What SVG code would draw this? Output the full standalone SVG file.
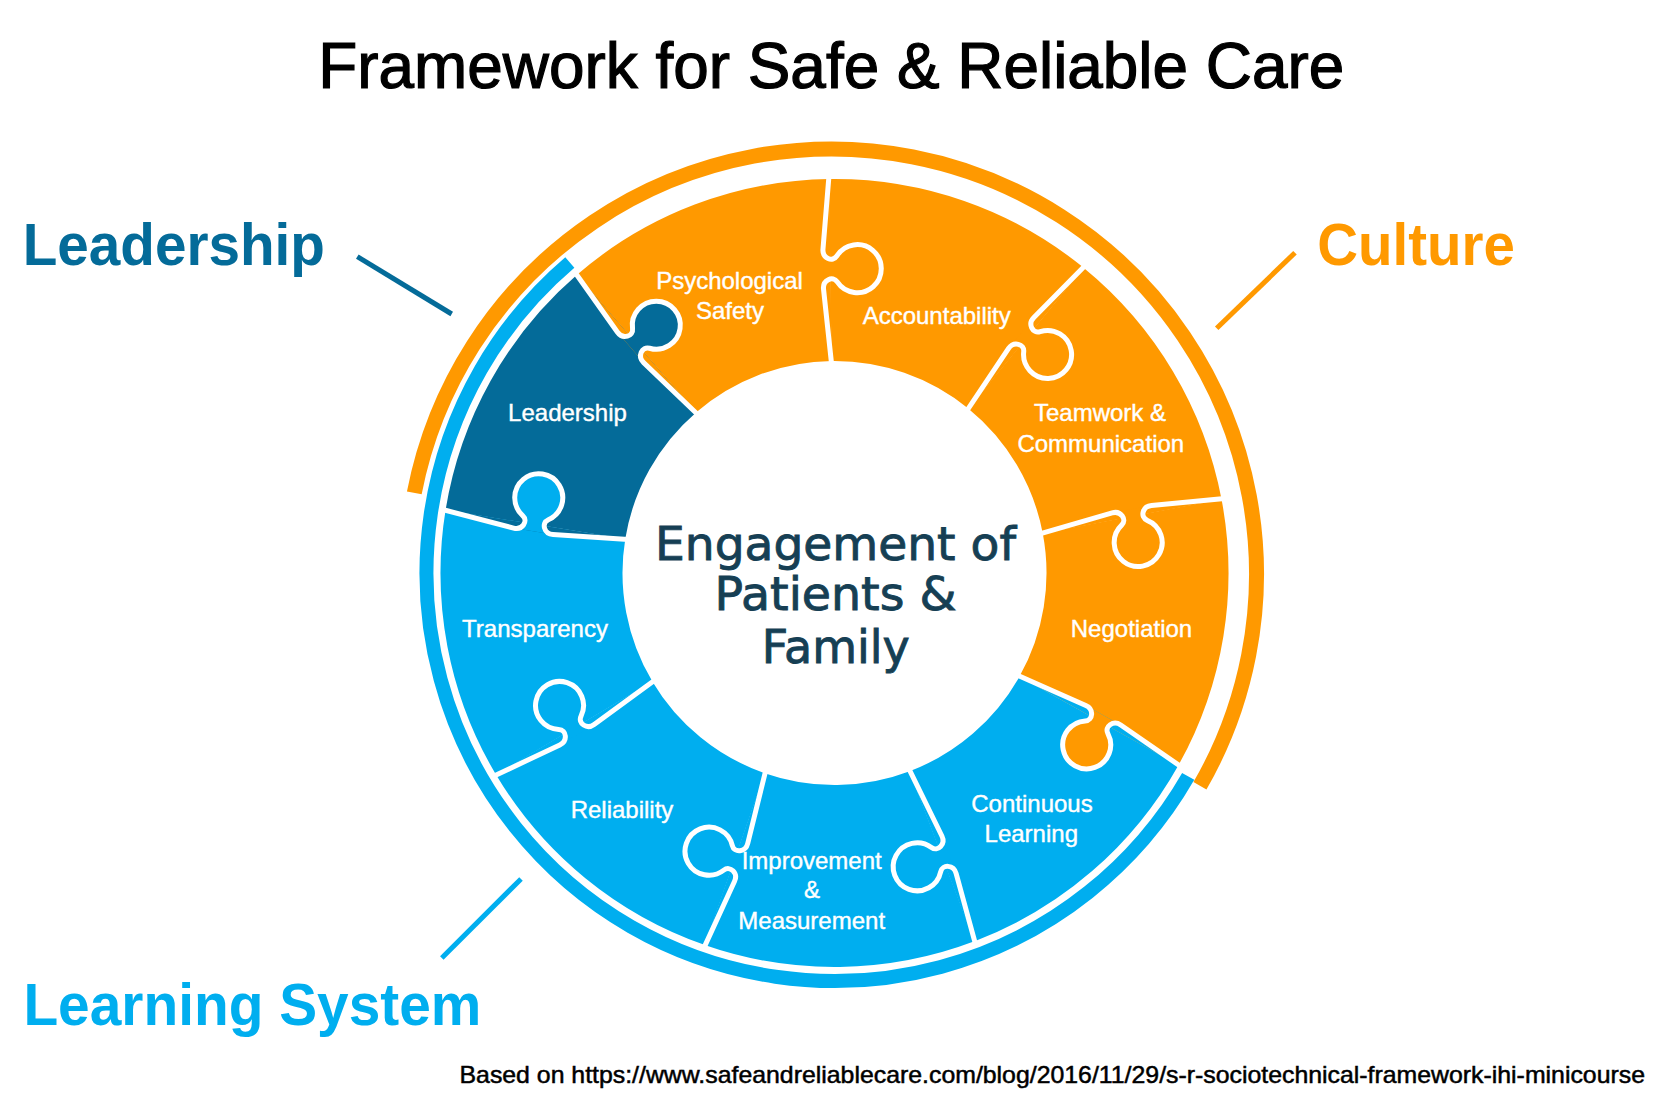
<svg xmlns="http://www.w3.org/2000/svg" width="1663" height="1102" viewBox="0 0 1663 1102">
<defs>
<style>
.lbl{font-family:"Liberation Sans",Arial,sans-serif;font-size:24px;fill:#ffffff;stroke:#ffffff;stroke-width:0.4;text-anchor:middle}
.piece{fill:none;stroke-width:182;stroke-dasharray:211.7 2000}
.or{stroke:#FF9900}.lb{stroke:#00AEEF}.db{stroke:#046B99}
.f-or{fill:#FF9900}.f-lb{fill:#00AEEF}.f-db{fill:#046B99}
.seam{fill:none;stroke:#ffffff;stroke-width:5;stroke-linejoin:round;stroke-linecap:butt}
.big{font-family:"Liberation Sans",Arial,sans-serif;font-weight:bold;font-size:60px}
.lead{stroke-width:5;fill:none}
.center{font-family:"DejaVu Sans","Liberation Sans",sans-serif;font-size:47px;fill:#163F54;stroke:#163F54;stroke-width:0.9;text-anchor:middle}
</style>
<path id="seamLine" d="M 397 0 L 324 -7 C 315 -7.9 310.3 2.5 317 6.83 A 24 24 0 1 1 291 6.83 C 297.7 2.5 293 -7.9 284 -7 L 209 0"/>
<path id="knob" d="M 324 -7 C 315 -7.9 310.3 2.5 317 6.83 A 24 24 0 1 1 291 6.83 C 297.7 2.5 293 -7.9 284 -7 Z"/>
<path id="sliver" d="M 394 0 L 324 -7 L 284 -7 L 212 0 Z"/>
</defs>
<rect width="1663" height="1102" fill="#ffffff"/>

<g id="title">
<text x="831.3" y="88.3" text-anchor="middle" font-family="'Liberation Sans',Arial,sans-serif" font-size="64" fill="#000000" stroke="#000000" stroke-width="1.2" textLength="1026" lengthAdjust="spacingAndGlyphs">Framework for Safe &amp; Reliable Care</text>
</g>

<g id="bands">
<circle cx="831.5" cy="574" r="425" fill="none" stroke="#FF9900" stroke-width="15" stroke-dasharray="1475 4000" transform="rotate(191 831.5 574)"/>
<circle cx="834.5" cy="573" r="408" fill="none" stroke="#00AEEF" stroke-width="14" stroke-dasharray="1421.3 4000" transform="rotate(29.9 834.5 573)"/>
</g>

<g id="piece-negotiation">
<circle class="piece or" cx="0" cy="0" r="303" transform="translate(834.5 573) rotate(-10.8)"/>
</g>
<g id="piece-continuous-learning">
<circle class="piece lb" cx="0" cy="0" r="303" transform="translate(834.5 573) rotate(29.2)"/>
</g>
<g id="piece-improvement">
<circle class="piece lb" cx="0" cy="0" r="303" transform="translate(834.5 573) rotate(69.2)"/>
</g>
<g id="piece-reliability">
<circle class="piece lb" cx="0" cy="0" r="303" transform="translate(834.5 573) rotate(109.2)"/>
</g>
<g id="piece-transparency">
<circle class="piece lb" cx="0" cy="0" r="303" transform="translate(834.5 573) rotate(149.2)"/>
</g>
<g id="piece-leadership">
<circle class="piece db" cx="0" cy="0" r="303" transform="translate(834.5 573) rotate(189.2)"/>
</g>
<g id="piece-psychological-safety">
<circle class="piece or" cx="0" cy="0" r="303" transform="translate(834.5 573) rotate(229.2)"/>
</g>
<g id="piece-accountability">
<circle class="piece or" cx="0" cy="0" r="303" transform="translate(834.5 573) rotate(269.2)"/>
</g>
<g id="piece-teamwork">
<circle class="piece or" cx="0" cy="0" r="303" transform="translate(834.5 573) rotate(309.2)"/>
</g>

<g id="seams" transform="translate(834.5 573)">
<use href="#sliver" class="f-lb" transform="rotate(29.2)"/>
<use href="#knob" class="f-or" transform="rotate(29.2)"/>
<use href="#seamLine" class="seam" transform="rotate(29.2)"/>
<use href="#sliver" class="f-lb" transform="rotate(69.2)"/>
<use href="#knob" class="f-lb" transform="rotate(69.2)"/>
<use href="#seamLine" class="seam" transform="rotate(69.2)"/>
<use href="#sliver" class="f-lb" transform="rotate(109.2)"/>
<use href="#knob" class="f-lb" transform="rotate(109.2)"/>
<use href="#seamLine" class="seam" transform="rotate(109.2)"/>
<use href="#sliver" class="f-lb" transform="rotate(149.2)"/>
<use href="#knob" class="f-lb" transform="rotate(149.2)"/>
<use href="#seamLine" class="seam" transform="rotate(149.2)"/>
<use href="#sliver" class="f-db" transform="rotate(189.2)"/>
<use href="#knob" class="f-lb" transform="rotate(189.2)"/>
<use href="#seamLine" class="seam" transform="rotate(189.2)"/>
<use href="#sliver" class="f-or" transform="rotate(229.2)"/>
<use href="#knob" class="f-db" transform="rotate(229.2)"/>
<use href="#seamLine" class="seam" transform="rotate(229.2)"/>
<use href="#sliver" class="f-or" transform="rotate(269.2)"/>
<use href="#knob" class="f-or" transform="rotate(269.2)"/>
<use href="#seamLine" class="seam" transform="rotate(269.2)"/>
<use href="#sliver" class="f-or" transform="rotate(309.2)"/>
<use href="#knob" class="f-or" transform="rotate(309.2)"/>
<use href="#seamLine" class="seam" transform="rotate(309.2)"/>
<use href="#sliver" class="f-or" transform="rotate(349.2)"/>
<use href="#knob" class="f-or" transform="rotate(349.2)"/>
<use href="#seamLine" class="seam" transform="rotate(349.2)"/>
</g>

<g id="piece-labels">
<text class="lbl" x="729.5" y="289.3">Psychological</text>
<text class="lbl" x="730" y="319.3">Safety</text>
<text class="lbl" x="936.7" y="324">Accountability</text>
<text class="lbl" x="1100" y="420.7">Teamwork &amp;</text>
<text class="lbl" x="1100.8" y="451.7">Communication</text>
<text class="lbl" x="1131.5" y="637.3">Negotiation</text>
<text class="lbl" x="1032" y="811.7">Continuous</text>
<text class="lbl" x="1031.3" y="841.7">Learning</text>
<text class="lbl" x="811.7" y="869.3">Improvement</text>
<text class="lbl" x="812" y="898.3">&amp;</text>
<text class="lbl" x="811.7" y="929.3">Measurement</text>
<text class="lbl" x="622" y="818.3">Reliability</text>
<text class="lbl" x="535" y="637.3">Transparency</text>
<text class="lbl" x="567.5" y="420.7">Leadership</text>
</g>

<g id="center-engagement">
<text class="center" x="835.5" y="560" textLength="361" lengthAdjust="spacingAndGlyphs">Engagement of</text>
<text class="center" x="835.5" y="610" textLength="242" lengthAdjust="spacingAndGlyphs">Patients &amp;</text>
<text class="center" x="835.8" y="663.3" textLength="148" lengthAdjust="spacingAndGlyphs">Family</text>
</g>

<g id="connectors">
<line class="lead" x1="357.3" y1="256.7" x2="451.7" y2="314" stroke="#046B99"/>
<line class="lead" x1="1295" y1="252.7" x2="1216.7" y2="328.3" stroke="#FF9900"/>
<line class="lead" x1="521" y1="878.9" x2="441.8" y2="958.1" stroke="#00AEEF"/>
</g>

<g id="label-leadership">
<text class="big" x="22.7" y="265" fill="#046B99" textLength="302.3" lengthAdjust="spacingAndGlyphs">Leadership</text>
</g>
<g id="label-culture">
<text class="big" x="1317.3" y="265" fill="#FF9900" textLength="197.7" lengthAdjust="spacingAndGlyphs">Culture</text>
</g>
<g id="label-learning-system">
<text class="big" x="23.4" y="1024.6" fill="#00AEEF" textLength="458" lengthAdjust="spacingAndGlyphs">Learning System</text>
</g>

<g id="footer">
<text x="459.5" y="1083.3" font-family="'Liberation Sans',Arial,sans-serif" font-size="24" fill="#000000" stroke="#000000" stroke-width="0.5" textLength="1185.5" lengthAdjust="spacingAndGlyphs">Based on https://www.safeandreliablecare.com/blog/2016/11/29/s-r-sociotechnical-framework-ihi-minicourse</text>
</g>
</svg>
